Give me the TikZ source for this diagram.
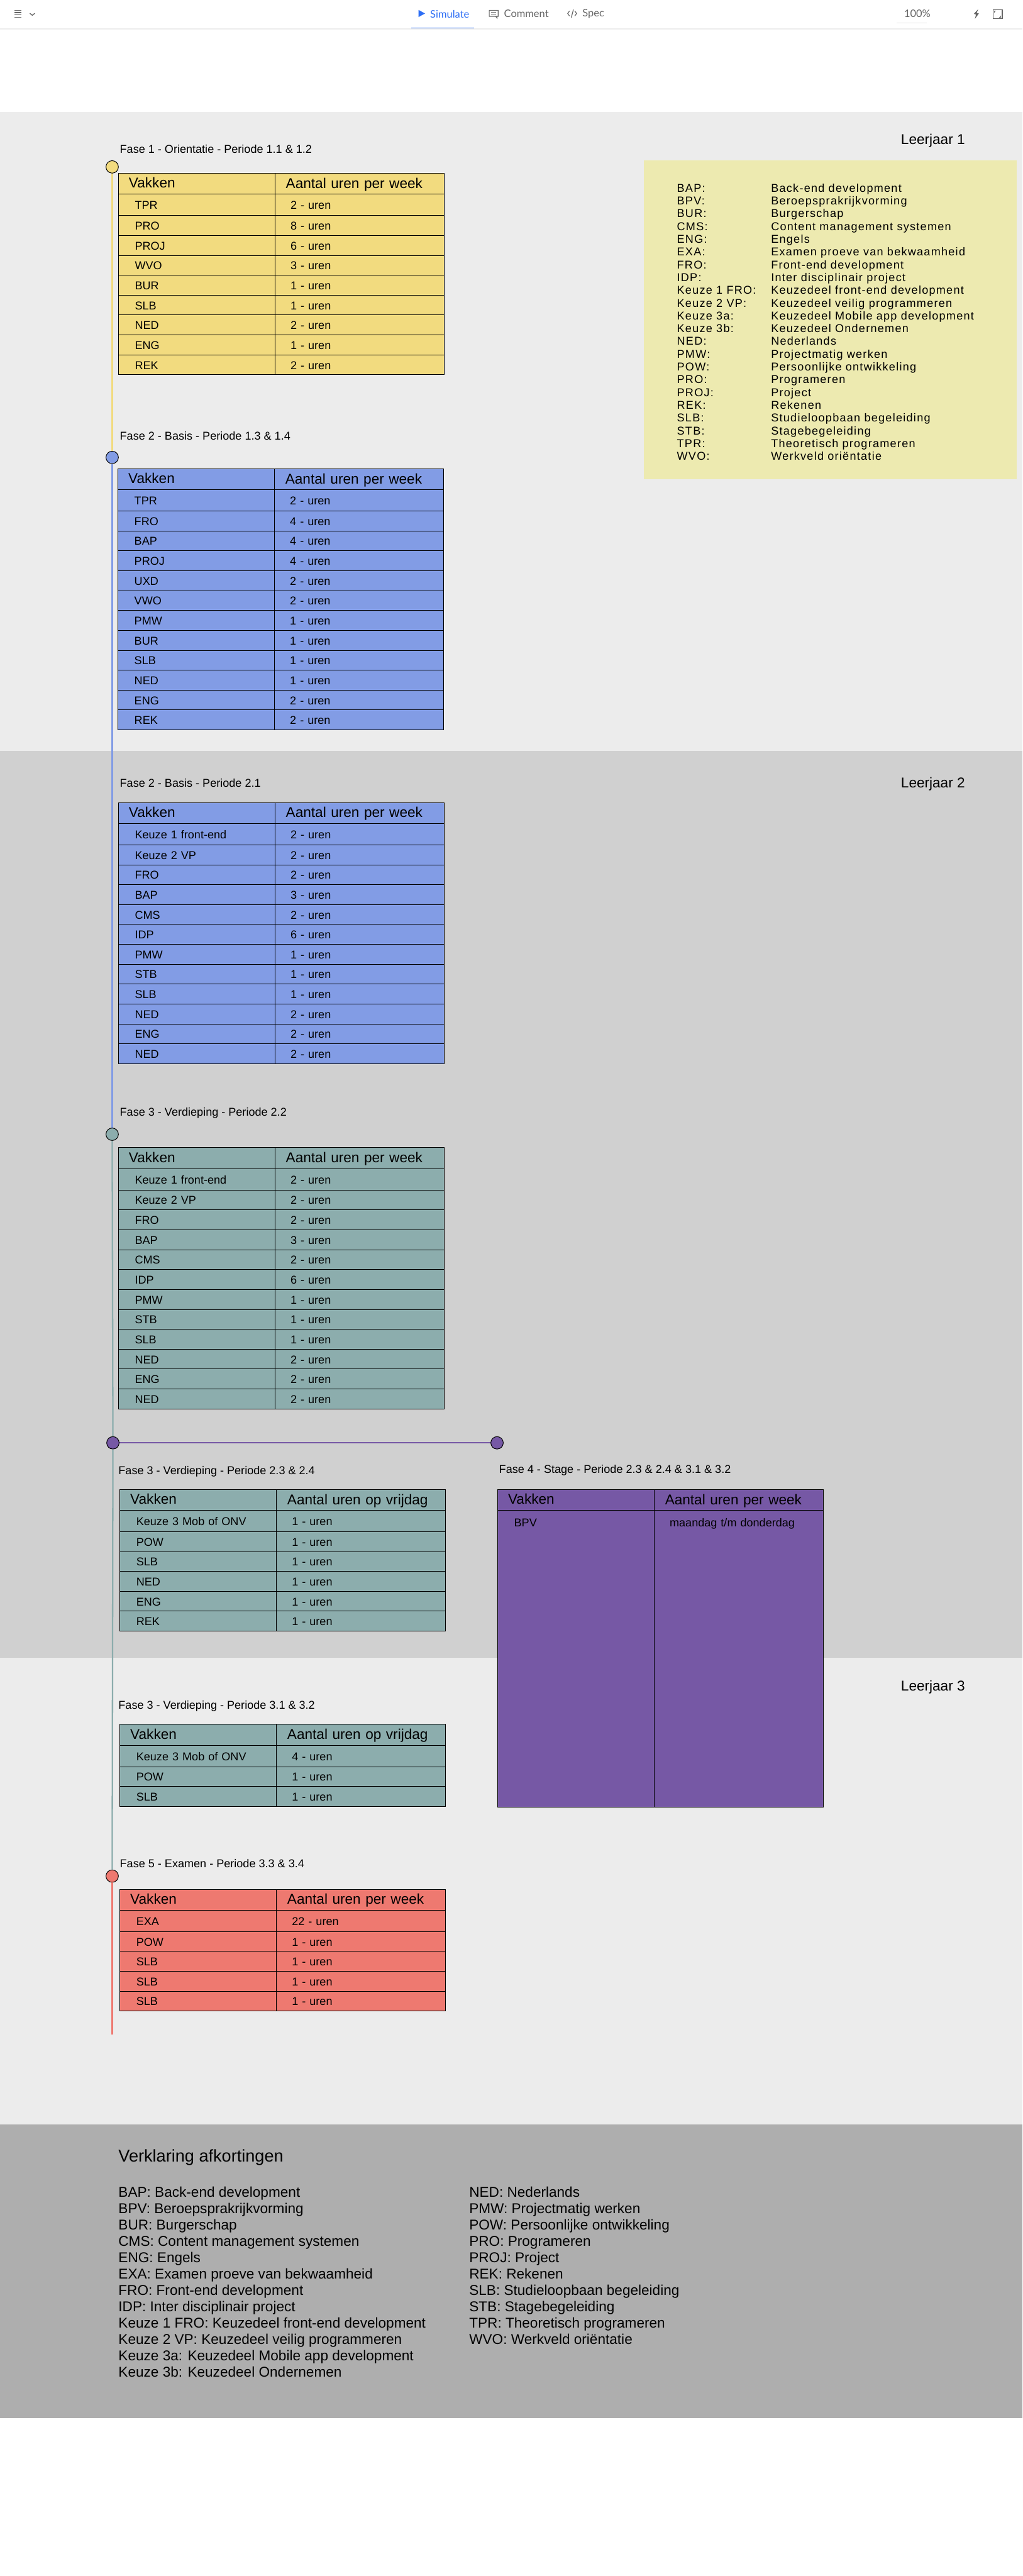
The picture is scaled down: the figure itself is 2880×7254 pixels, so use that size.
\documentclass[tikz,border=0pt]{standalone}
\usepackage{fontspec}
\setmainfont{Liberation Sans}
\newfontfamily\afkfont[LetterSpace=7]{Liberation Sans}
\newfontfamily\balkfont{Lato}
\definecolor{jaarlicht}{HTML}{ECECEC}
\definecolor{jaardonker}{HTML}{D0D0D0}
\definecolor{uitleg}{HTML}{AEAEAE}
\definecolor{afkbg}{HTML}{EDEAB0}
\definecolor{geel}{HTML}{F2DB7F}
\definecolor{blauw}{HTML}{829CE5}
\definecolor{groen}{HTML}{8CADAD}
\definecolor{paars}{HTML}{7658A5}
\definecolor{rood}{HTML}{EE7970}
\definecolor{actief}{HTML}{2D6EF5}
\definecolor{balk}{HTML}{666666}
\newcommand{\celfont}{\fontsize{9.1pt}{11pt}\selectfont}
\newcommand{\kopfont}{\fontsize{11.38pt}{13pt}\selectfont}
\usetikzlibrary{positioning}

% naam, x, y, kleur, kop rechts, rijen
\newcommand{\vaktabel}[6]{
  \node[kopA=#4,anchor=north west,alias=#1v0] (#1k) at (#2,#3) {Vakken};
  \node[kopB=#4,right=0pt of #1k,alias=#1u0] (#1l) {#5};
  \foreach \vak/\uren [count=\i,remember=\i as \j (initially 0)] in {#6} {
    \ifnum\i=1 \def\rijh{0.6cm}\else\def\rijh{0.56cm}\fi
    \node[vakcel=#4,minimum height=\rijh,below=0pt of #1v\j] (#1v\i) {\vak};
    \node[urencel=#4,minimum height=\rijh,below=0pt of #1u\j] (#1u\i) {\uren};
  }
}

\begin{document}
\begin{tikzpicture}[
  x=0.01cm,y=-0.01cm,
  cel/.style={draw=black,fill=#1,line width=0.5pt,outer sep=0pt,inner ysep=0pt,align=left},
  kopA/.style={cel=#1,font=\kopfont,minimum height=0.59cm,inner xsep=0.29cm,text width=3.82cm,text height=9.2pt,text depth=2.4pt},
  kopB/.style={cel=#1,font=\kopfont,minimum height=0.59cm,inner xsep=0.31cm,text width=4.14cm,text height=9.6pt,text depth=2.4pt},
  vakcel/.style={cel=#1,font=\celfont,inner xsep=0.46cm,text width=3.48cm,text height=8.2pt,text depth=1.2pt},
  urencel/.style={cel=#1,font=\celfont,inner xsep=0.44cm,text width=3.88cm,text height=8.2pt,text depth=1.2pt},
  fase/.style={font=\celfont,anchor=west,inner sep=0pt,text height=8.3pt,text depth=1.9pt},
  jaar/.style={font=\kopfont,anchor=west,inner sep=0pt},
  stip/.style={circle,draw=black,fill=#1,line width=0.5pt,minimum size=0.35cm,inner sep=0pt},
  lijn/.style={draw=#1,line width=1.15pt},
  afk/.style={font=\afkfont\celfont,anchor=west,inner sep=0pt,text height=8.3pt,text depth=1.9pt},
  tab/.style={font=\balkfont\fontsize{8.3pt}{10pt}\selectfont,anchor=west,inner sep=0pt,text=balk}
]
  % achtergrond
  \fill[white] (0,0) rectangle (2880,7254);
  \fill[jaarlicht] (0,315) rectangle (2880,2115);
  \fill[jaardonker] (0,2115) rectangle (2880,4668);
  \fill[jaarlicht] (0,4668) rectangle (2880,5982);
  \fill[uitleg] (0,5982) rectangle (2880,6809);
  \fill[afkbg] (1814,452) rectangle (2864,1350);

  % werkbalk
  \fill[black!7] (0,80) rectangle (2880,83);
  \fill[actief] (1159,78) rectangle (1335,80);
  \foreach \y in {28,34.5,41,47} \fill[balk] (40,\y) rectangle (60,\y+2);
  \draw[balk,line width=0.7pt] (84,37.5) -- (91,43) -- (98,37.5);
  \fill[actief] (1179,28) -- (1197,38) -- (1179,48) -- cycle;
  \node[tab,text=actief] (simulate) at (1211,39) {Simulate};
  \draw[balk,line width=0.55pt] (1378,29) rectangle (1403,46) (1396,46) -- (1400,51) -- (1400,46);
  \draw[balk,line width=0.4pt] (1383,35) -- (1398,35) (1383,40) -- (1398,40);
  \node[tab] (comment) at (1419,39) {Comment};
  \draw[balk,line width=0.6pt] (1604,31) -- (1599,38) -- (1604,45) (1619,31) -- (1624,38) -- (1619,45) (1615,27) -- (1609,50);
  \node[tab] (spec) at (1640,39) {Spec};
  \node[tab] (zoom) at (2546,39) {100\%};
  \fill[black!10] (2526,64) rectangle (2610,66);
  \fill[balk] (2755,26) -- (2743,39) -- (2749,41) -- (2746,53) -- (2757,38) -- (2751,36) -- cycle;
  \draw[balk,line width=0.55pt] (2797,27) rectangle (2823,53);
  \draw[balk,line width=0.45pt] (2801,35) -- (2801,31) -- (2806,31) (2819,44) -- (2819,49) -- (2814,49);

  % fases
  \node[stip=geel] (s1) at (316,470) {};
  \node[stip=blauw] (s2) at (316,1288) {};
  \node[stip=groen] (s3) at (316,3194) {};
  \node[stip=paars] (s4) at (318,4063) {};
  \node[stip=paars] (s5) at (1400,4063) {};
  \node[stip=rood] (s6) at (316,5283) {};
  \coordinate (eind) at (316,5729);
  \draw[lijn=geel] (s1) -- (s2);
  \draw[lijn=blauw] (s2) -- (s3);
  \draw[lijn=groen] (s3) -- (s4);
  \draw[lijn=paars] (s4) -- (s5);
  \draw[lijn=groen] (s4) -- (s6);
  \draw[lijn=rood] (s6) -- (eind);

  \node[fase] (f1) at (337,420) {Fase 1 - Orientatie - Periode 1.1 \& 1.2};
  \vaktabel{a}{334}{488}{geel}{Aantal uren per week}{TPR/2 - uren,PRO/8 - uren,PROJ/6 - uren,WVO/3 - uren,BUR/1 - uren,SLB/1 - uren,NED/2 - uren,ENG/1 - uren,REK/2 - uren}

  \node[fase] (f2) at (337,1228) {Fase 2 - Basis - Periode 1.3 \& 1.4};
  \vaktabel{b}{332.5}{1320}{blauw}{Aantal uren per week}{TPR/2 - uren,FRO/4 - uren,BAP/4 - uren,PROJ/4 - uren,UXD/2 - uren,VWO/2 - uren,PMW/1 - uren,BUR/1 - uren,SLB/1 - uren,NED/1 - uren,ENG/2 - uren,REK/2 - uren}

  \node[fase] (f3) at (337,2205) {Fase 2 - Basis - Periode 2.1};
  \vaktabel{c}{334}{2260}{blauw}{Aantal uren per week}{Keuze 1 front-end/2 - uren,Keuze 2 VP/2 - uren,FRO/2 - uren,BAP/3 - uren,CMS/2 - uren,IDP/6 - uren,PMW/1 - uren,STB/1 - uren,SLB/1 - uren,NED/2 - uren,ENG/2 - uren,NED/2 - uren}

  \node[fase] (f4) at (337,3131) {Fase 3 - Verdieping - Periode 2.2};
  \vaktabel{d}{334}{3232}{groen}{Aantal uren per week}{Keuze 1 front-end/2 - uren,Keuze 2 VP/2 - uren,FRO/2 - uren,BAP/3 - uren,CMS/2 - uren,IDP/6 - uren,PMW/1 - uren,STB/1 - uren,SLB/1 - uren,NED/2 - uren,ENG/2 - uren,NED/2 - uren}

  \node[fase] (f5) at (333,4140) {Fase 3 - Verdieping - Periode 2.3 \& 2.4};
  \vaktabel{e}{338}{4194}{groen}{Aantal uren op vrijdag}{Keuze 3 Mob of ONV/1 - uren,POW/1 - uren,SLB/1 - uren,NED/1 - uren,ENG/1 - uren,REK/1 - uren}

  \node[fase] (f6) at (1405,4137) {Fase 4 - Stage - Periode 2.3 \& 2.4 \& 3.1 \& 3.2};
  \node[kopA=paars,anchor=north west] (gk) at (1402,4194) {Vakken};
  \node[kopB=paars,right=0pt of gk] (gl) {Aantal uren per week};
  \node[vakcel=paars,below=0pt of gk,text height=0.46cm,text depth=7.89cm] (gv) {BPV};
  \node[urencel=paars,below=0pt of gl,text height=0.46cm,text depth=7.89cm] (gu) {maandag t/m donderdag};

  \node[fase] (f7) at (333,4801) {Fase 3 - Verdieping - Periode 3.1 \& 3.2};
  \vaktabel{h}{338}{4856}{groen}{Aantal uren op vrijdag}{Keuze 3 Mob of ONV/4 - uren,POW/1 - uren,SLB/1 - uren}

  \node[fase] (f8) at (337,5248) {Fase 5 - Examen - Periode 3.3 \& 3.4};
  \vaktabel{i}{338}{5320}{rood}{Aantal uren per week}{EXA/22 - uren,POW/1 - uren,SLB/1 - uren,SLB/1 - uren,SLB/1 - uren}

  % leerjaren
  \node[jaar] (j1) at (2537,396) {Leerjaar 1};
  \node[jaar] (j2) at (2537,2207) {Leerjaar 2};
  \node[jaar] (j3) at (2537,4751) {Leerjaar 3};

  % afkortingen boven
  \foreach \kort/\lang [count=\i] in {BAP:/Back-end development,BPV:/Beroepsprakrijkvorming,BUR:/Burgerschap,CMS:/Content management systemen,ENG:/Engels,EXA:/Examen proeve van bekwaamheid,FRO:/Front-end development,IDP:/Inter disciplinair project,Keuze 1 FRO:/Keuzedeel front-end development,Keuze 2 VP:/Keuzedeel veilig programmeren,Keuze 3a:/Keuzedeel Mobile app development,Keuze 3b:/Keuzedeel Ondernemen,NED:/Nederlands,PMW:/Projectmatig werken,POW:/Persoonlijke ontwikkeling,PRO:/Programeren,PROJ:/Project,REK:/Rekenen,SLB:/Studieloopbaan begeleiding,STB:/Stagebegeleiding,TPR:/Theoretisch programeren,WVO:/Werkveld oriëntatie} {
    \node[afk] (kort\i) at (1906,{529+36*(\i-1)}) {\kort};
    \node[afk] (lang\i) at (2171,{529+36*(\i-1)}) {\lang};
  }

  % verklaring onder
  \node[font=\fontsize{13.66pt}{16pt}\selectfont,anchor=west,inner sep=0pt] (verkl) at (333,6075) {Verklaring afkortingen};
  \node[font=\fontsize{11.38pt}{13.09pt}\selectfont,anchor=north west,inner sep=0pt,align=left] (kol1) at (333,6157) {BAP: Back-end development\\BPV: Beroepsprakrijkvorming\\BUR: Burgerschap\\CMS: Content management systemen\\ENG: Engels\\EXA: Examen proeve van bekwaamheid\\FRO: Front-end development\\IDP: Inter disciplinair project\\Keuze 1 FRO: Keuzedeel front-end development\\Keuze 2 VP: Keuzedeel veilig programmeren\\Keuze 3a: Keuzedeel Mobile app development\\Keuze 3b: Keuzedeel Ondernemen};
  \node[font=\fontsize{11.38pt}{13.09pt}\selectfont,anchor=north west,inner sep=0pt,align=left] (kol2) at (1321,6157) {NED: Nederlands\\PMW: Projectmatig werken\\POW: Persoonlijke ontwikkeling\\PRO: Programeren\\PROJ: Project\\REK: Rekenen\\SLB: Studieloopbaan begeleiding\\STB: Stagebegeleiding\\TPR: Theoretisch programeren\\WVO: Werkveld oriëntatie};
\end{tikzpicture}
\end{document}
